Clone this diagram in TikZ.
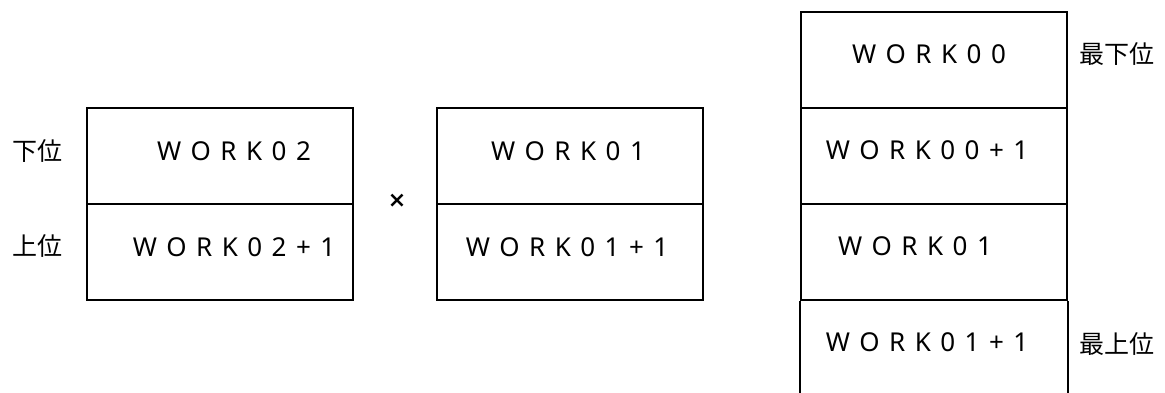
\documentclass[tikz,border=0pt]{standalone}
\usepackage{fontspec}
\setmainfont{Noto Sans}[WordSpace=1.4]
\newfontfamily\jpfont{Noto Sans CJK JP}
\newfontfamily\symfont{DejaVu Sans Bold}
\begin{document}
\begin{tikzpicture}[x=1pt,y=1pt,
  cell/.style={draw,line width=1.8pt,minimum width=266pt,anchor=south west,inner sep=0pt},
  lbl/.style={font=\fontsize{26}{30}\selectfont,anchor=base,inner sep=0pt},
  side/.style={font=\jpfont\fontsize{25}{30}\selectfont,anchor=base,inner sep=0pt}]
\useasboundingbox (0,0) rectangle (1165,392);
% left box
\node[cell,minimum height=96pt] (l1) at (86,187) {};
\node[cell,minimum height=96pt] (l2) at (86,91) {};
% middle box
\node[cell,minimum height=96pt] (m1) at (436,187) {};
\node[cell,minimum height=96pt] (m2) at (436,91) {};
% right column
\node[cell,minimum height=96pt] (r1) at (800,283) {};
\node[cell,minimum height=96pt] (r2) at (800,187) {};
\node[cell,minimum height=96pt] (r3) at (800,91) {};
\draw[line width=1.8pt] (r3.south west) -- ++(0,-93) (r3.south east) -- ++(0,-93);
% texts
\node[lbl] (t1) at (234,232) {W O R K 0 2};
\node[lbl] (t2) at (234,136) {W O R K 0 2 + 1};
\node[lbl] (t3) at (568,232) {W O R K 0 1};
\node[lbl] (t4) at (567,136) {W O R K 0 1 + 1};
\node[lbl] (t5) at (929,329) {W O R K 0 0};
\node[lbl] (t6) at (927,233) {W O R K 0 0 + 1};
\node[lbl] (t7) at (915,137) {W O R K 0 1};
\node[lbl] (t8) at (927,41) {W O R K 0 1 + 1};
% side labels
\node[side] (s1) at (37.5,232) {下位};
\node[side] (s2) at (37.5,137) {上位};
\node[side] (s3) at (1117,329) {最下位};
\node[side] (s4) at (1117,39) {最上位};
\node[font=\symfont\fontsize{22}{24}\selectfont,inner sep=0pt] (x) at (397,191.5) {×};
\end{tikzpicture}
\end{document}
